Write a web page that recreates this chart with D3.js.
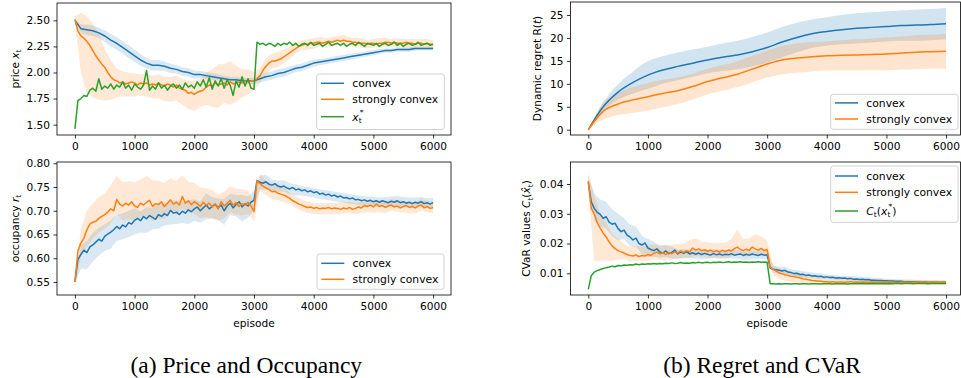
<!DOCTYPE html>
<html>
<head>
<meta charset="utf-8">
<script src="https://cdn.jsdelivr.net/npm/d3@7"></script>
<style>
  html, body { margin: 0; padding: 0; background: #fff; }
  svg { display: block; font-family: "DejaVu Sans", sans-serif; }
</style>
</head>
<body>
<svg id="chart" width="961" height="378"></svg>
<script>
// ---- ticks ----
const xTicks = [0, 1000, 2000, 3000, 4000, 5000, 6000];
const priceTicks = [1.50, 1.75, 2.00, 2.25, 2.50];
const occTicks = [0.55, 0.60, 0.65, 0.70, 0.75, 0.80];
const regretTicks = [0, 5, 10, 15, 20, 25];
const cvarTicks = [0.01, 0.02, 0.03, 0.04];

// ---- price x_t (convex every 100 episodes, others every 50) ----
const priceConvex = [2.50,2.42,2.41,2.40,2.38,2.35,2.31,2.28,2.24,2.20,
  2.16,2.12,2.09,2.07,2.07,2.06,2.04,2.03,2.01,2.00,
  1.98,1.98,1.97,1.96,1.95,1.94,1.93,1.93,1.92,1.92,
  1.92,1.94,1.96,1.97,1.99,2.00,2.02,2.04,2.05,2.07,
  2.09,2.10,2.11,2.12,2.13,2.14,2.15,2.16,2.17,2.18,
  2.19,2.20,2.21,2.21,2.22,2.22,2.22,2.23,2.23,2.23,2.23];
const priceConvexBand = [0.01,0.04,0.05,0.05,0.05,0.055,0.06,0.06,0.06,0.06,
  0.06,0.055,0.05,0.05,0.05,0.045,0.045,0.04,0.04,0.04,
  0.04,0.035,0.035,0.035,0.03,0.03,0.03,0.03,0.03,0.03,
  0.03,0.035,0.04,0.04,0.04,0.04,0.04,0.035,0.035,0.035,
  0.035,0.03,0.03,0.03,0.03,0.03,0.03,0.025,0.025,0.025,
  0.025,0.025,0.02,0.02,0.02,0.02,0.02,0.02,0.02,0.02,0.02];
const priceStrong = [2.51,2.40,2.35,2.33,2.30,2.26,2.21,2.16,2.12,2.08,
  2.05,2.00,1.96,1.93,1.92,1.90,1.91,1.89,1.90,1.91,
  1.90,1.88,1.90,1.89,1.90,1.88,1.89,1.88,1.90,1.88,
  1.87,1.89,1.88,1.86,1.88,1.85,1.84,1.83,1.80,1.81,
  1.79,1.81,1.82,1.83,1.86,1.88,1.87,1.90,1.88,1.89,
  1.90,1.88,1.91,1.89,1.90,1.91,1.90,1.92,1.91,1.92,
  1.92,1.94,1.97,2.02,2.06,2.09,2.11,2.11,2.12,2.13,
  2.15,2.17,2.19,2.21,2.23,2.25,2.26,2.27,2.27,2.28,
  2.28,2.29,2.29,2.28,2.29,2.30,2.29,2.30,2.31,2.30,
  2.31,2.30,2.30,2.29,2.29,2.28,2.28,2.28,2.27,2.28,
  2.28,2.27,2.28,2.28,2.29,2.29,2.28,2.29,2.28,2.28,
  2.28,2.29,2.28,2.28,2.27,2.28,2.28,2.27,2.28,2.27,
  2.27];
const priceStrongUp = [0.03,0.22,0.24,0.26,0.26,0.17,0.16,0.12,0.10,0.10,
  0.09,0.08,0.09,0.08,0.08,0.09,0.08,0.09,0.10,0.12,
  0.13,0.12,0.14,0.16,0.20,0.18,0.20,0.17,0.13,0.12,
  0.08,0.07,0.08,0.07,0.08,0.07,0.06,0.06,0.05,0.05,
  0.05,0.05,0.04,0.05,0.04,0.05,0.04,0.04,0.05,0.04,
  0.04,0.05,0.04,0.04,0.05,0.04,0.04,0.05,0.04,0.04,0.04];
const priceStrongDn = [0.03,0.35,0.50,0.45,0.38,0.32,0.22,0.16,0.14,0.13,
  0.13,0.12,0.13,0.14,0.15,0.14,0.16,0.15,0.15,0.15,
  0.16,0.15,0.17,0.20,0.22,0.19,0.22,0.18,0.14,0.12,
  0.08,0.07,0.08,0.07,0.07,0.06,0.06,0.05,0.05,0.05,
  0.05,0.04,0.04,0.05,0.04,0.04,0.04,0.05,0.04,0.04,
  0.04,0.04,0.05,0.04,0.04,0.04,0.05,0.04,0.04,0.04,0.04];
const priceOptimal = [1.46,1.73,1.75,1.78,1.77,1.83,1.85,1.82,1.94,1.84,
  1.87,1.85,1.89,1.84,1.88,1.86,1.91,1.85,1.88,1.83,
  1.89,1.86,1.84,1.88,2.02,1.83,1.87,1.84,1.90,1.85,
  1.88,1.83,1.87,1.89,1.85,1.88,1.84,1.90,1.86,1.88,
  1.85,1.91,1.87,1.93,1.86,1.95,1.84,1.92,1.87,1.94,
  1.85,1.93,1.88,1.78,1.92,1.86,1.96,1.87,1.94,1.85,
  1.84,2.29,2.27,2.28,2.26,2.28,2.27,2.25,2.28,2.26,
  2.28,2.27,2.29,2.26,2.28,2.25,2.27,2.28,2.26,2.29,
  2.26,2.27,2.28,2.25,2.27,2.29,2.26,2.27,2.28,2.26,
  2.28,2.25,2.27,2.28,2.26,2.29,2.27,2.25,2.28,2.27,
  2.26,2.28,2.25,2.27,2.28,2.26,2.27,2.29,2.26,2.28,
  2.25,2.27,2.28,2.26,2.27,2.29,2.26,2.27,2.28,2.26,
  2.27];

// ---- occupancy r_t (every 50 episodes, bands every 100) ----
const occConvex = [0.550,0.597,0.608,0.617,0.612,0.624,0.628,0.634,0.640,0.636,
  0.646,0.651,0.655,0.660,0.667,0.662,0.670,0.666,0.675,0.672,
  0.680,0.684,0.679,0.688,0.683,0.690,0.686,0.682,0.692,0.688,
  0.694,0.690,0.701,0.695,0.697,0.692,0.699,0.695,0.702,0.698,
  0.704,0.708,0.700,0.706,0.712,0.704,0.709,0.714,0.706,0.712,
  0.700,0.710,0.716,0.706,0.713,0.719,0.708,0.715,0.710,0.718,
  0.722,0.764,0.760,0.758,0.761,0.756,0.754,0.757,0.752,0.750,
  0.752,0.748,0.746,0.749,0.744,0.746,0.742,0.744,0.740,0.742,
  0.738,0.740,0.735,0.737,0.733,0.735,0.731,0.733,0.729,0.731,
  0.727,0.728,0.725,0.727,0.723,0.724,0.721,0.723,0.720,0.722,
  0.719,0.721,0.718,0.721,0.719,0.717,0.720,0.718,0.721,0.717,
  0.719,0.716,0.718,0.715,0.718,0.716,0.719,0.715,0.717,0.714,
  0.717];
const occConvexUp = [0.005,0.02,0.025,0.025,0.025,0.025,0.025,0.025,0.025,0.025,
  0.025,0.02,0.025,0.02,0.025,0.02,0.02,0.025,0.02,0.02,
  0.02,0.02,0.025,0.02,0.02,0.025,0.02,0.02,0.025,0.02,
  0.02,0.015,0.015,0.012,0.012,0.012,0.012,0.012,0.01,0.01,
  0.01,0.01,0.01,0.01,0.01,0.01,0.01,0.01,0.01,0.01,
  0.01,0.01,0.01,0.01,0.01,0.01,0.01,0.01,0.01,0.01,0.01];
const occConvexDn = [0.005,0.03,0.035,0.035,0.035,0.03,0.035,0.03,0.03,0.03,
  0.03,0.025,0.03,0.025,0.03,0.025,0.03,0.025,0.025,0.03,
  0.025,0.025,0.03,0.025,0.025,0.03,0.025,0.025,0.03,0.025,
  0.02,0.015,0.015,0.012,0.012,0.012,0.012,0.012,0.01,0.01,
  0.01,0.01,0.01,0.01,0.01,0.01,0.01,0.01,0.01,0.01,
  0.01,0.01,0.01,0.01,0.01,0.01,0.01,0.01,0.01,0.01,0.01];
const occStrong = [0.550,0.615,0.632,0.642,0.660,0.672,0.676,0.678,0.684,0.688,
  0.692,0.697,0.704,0.700,0.724,0.714,0.710,0.716,0.712,0.719,
  0.710,0.707,0.716,0.712,0.718,0.722,0.709,0.715,0.713,0.719,
  0.709,0.716,0.723,0.714,0.718,0.712,0.730,0.716,0.721,0.713,
  0.719,0.715,0.709,0.718,0.712,0.716,0.708,0.713,0.704,0.719,
  0.710,0.716,0.722,0.712,0.717,0.709,0.715,0.712,0.718,0.710,
  0.698,0.763,0.757,0.752,0.748,0.745,0.740,0.741,0.737,0.735,
  0.733,0.730,0.726,0.721,0.718,0.714,0.712,0.709,0.707,0.708,
  0.705,0.707,0.704,0.706,0.705,0.707,0.704,0.706,0.705,0.703,
  0.706,0.704,0.707,0.703,0.705,0.708,0.706,0.711,0.709,0.712,
  0.708,0.714,0.709,0.711,0.707,0.710,0.712,0.708,0.710,0.706,
  0.709,0.711,0.707,0.709,0.706,0.710,0.712,0.706,0.709,0.705,
  0.707];
const occStrongUp = [0.005,0.03,0.04,0.04,0.045,0.045,0.05,0.05,0.05,0.05,
  0.05,0.05,0.055,0.055,0.05,0.05,0.045,0.045,0.045,0.04,
  0.04,0.04,0.035,0.035,0.03,0.03,0.03,0.03,0.03,0.025,
  0.02,0.02,0.015,0.015,0.015,0.015,0.012,0.012,0.012,0.012,
  0.012,0.012,0.012,0.012,0.012,0.012,0.012,0.012,0.012,0.012,
  0.012,0.012,0.012,0.012,0.012,0.012,0.012,0.012,0.012,0.012,0.012];
const occStrongDn = [0.005,0.03,0.035,0.035,0.03,0.03,0.03,0.03,0.03,0.03,
  0.03,0.03,0.03,0.03,0.03,0.025,0.025,0.025,0.025,0.025,
  0.025,0.025,0.025,0.025,0.025,0.025,0.025,0.025,0.025,0.025,
  0.02,0.015,0.015,0.015,0.015,0.015,0.012,0.012,0.012,0.012,
  0.012,0.012,0.012,0.012,0.012,0.012,0.012,0.012,0.012,0.012,
  0.012,0.012,0.012,0.012,0.012,0.012,0.012,0.012,0.012,0.012,0.012];

// ---- dynamic regret R(t) (every 250 episodes) ----
const regretConvex = [0,5.0,8.2,10.3,11.9,13.0,13.8,14.5,15.2,15.8,16.3,17.0,17.9,19.1,20.1,20.9,21.4,21.8,22.1,22.3,22.5,22.7,22.8,22.9,23.1];
const regretConvexStd = [0,1.0,1.7,2.4,3.0,3.0,3.0,3.0,2.9,3.0,3.1,3.2,3.3,3.3,3.2,3.1,3.1,3.2,3.3,3.3,3.3,3.3,3.4,3.4,3.4];
const regretStrong = [0,4.0,5.6,6.5,7.2,7.9,8.5,9.4,10.5,11.3,12.1,13.2,14.3,15.2,15.6,15.9,16.1,16.2,16.3,16.4,16.5,16.7,16.9,17.0,17.1];
const regretStrongStd = [0,1.8,2.4,2.8,3.0,3.0,2.9,2.8,2.8,2.8,2.8,2.9,2.9,3.1,3.2,3.2,3.2,3.3,3.4,3.5,3.6,3.6,3.7,3.7,3.8];

// ---- CVaR values (every 50 episodes, bands every 100) ----
const cvarConvex = [0.0405,0.0340,0.0318,0.0305,0.0298,0.0285,0.0290,0.0272,0.0265,0.0268,
  0.0250,0.0240,0.0245,0.0228,0.0222,0.0212,0.0218,0.0200,0.0195,0.0202,
  0.0185,0.0180,0.0176,0.0182,0.0172,0.0168,0.0175,0.0166,0.0170,0.0178,
  0.0165,0.0171,0.0167,0.0173,0.0165,0.0169,0.0164,0.0168,0.0163,0.0167,
  0.0164,0.0161,0.0166,0.0162,0.0165,0.0161,0.0164,0.0162,0.0166,0.0161,
  0.0163,0.0165,0.0160,0.0164,0.0161,0.0165,0.0162,0.0160,0.0164,0.0161,
  0.0162,0.0118,0.0114,0.0112,0.0110,0.0108,0.0110,0.0104,0.0103,0.0099,
  0.0100,0.0096,0.0097,0.0093,0.0094,0.0091,0.0092,0.0089,0.0090,0.0087,
  0.0088,0.0086,0.0087,0.0084,0.0085,0.0083,0.0084,0.0082,0.0083,0.0080,
  0.0081,0.0079,0.0080,0.0078,0.0079,0.0077,0.0077,0.0076,0.0076,0.0075,
  0.0075,0.0074,0.0074,0.0073,0.0073,0.0073,0.0072,0.0072,0.0072,0.0071,
  0.0071,0.0071,0.0070,0.0071,0.0070,0.0070,0.0070,0.0070,0.0069,0.0070,
  0.0069];
const cvarConvexUp = [0.002,0.005,0.005,0.005,0.005,0.005,0.004,0.004,0.004,0.003,
  0.003,0.003,0.002,0.002,0.002,0.0015,0.0015,0.0015,0.0015,0.0015,
  0.0015,0.0015,0.0015,0.0015,0.0015,0.0015,0.0015,0.0015,0.0015,0.0015,
  0.0015,0.0012,0.0012,0.0012,0.001,0.001,0.001,0.001,0.001,0.001,
  0.0008,0.0008,0.0008,0.0008,0.0008,0.0008,0.0008,0.0008,0.0008,0.0008,
  0.0007,0.0007,0.0007,0.0007,0.0007,0.0007,0.0007,0.0007,0.0007,0.0007,0.0007];
const cvarConvexDn = [0.002,0.004,0.004,0.004,0.004,0.004,0.003,0.003,0.003,0.003,
  0.003,0.002,0.002,0.002,0.002,0.0015,0.0015,0.0015,0.0015,0.0015,
  0.0015,0.0015,0.0015,0.0015,0.0015,0.0015,0.0015,0.0015,0.0015,0.0015,
  0.0015,0.0012,0.0012,0.0012,0.001,0.001,0.001,0.001,0.001,0.001,
  0.0008,0.0008,0.0008,0.0008,0.0008,0.0008,0.0008,0.0008,0.0008,0.0008,
  0.0007,0.0007,0.0007,0.0007,0.0007,0.0007,0.0007,0.0007,0.0007,0.0007,0.0007];
const cvarStrong = [0.0410,0.0318,0.0300,0.0270,0.0252,0.0235,0.0222,0.0205,0.0192,0.0183,
  0.0176,0.0172,0.0168,0.0163,0.0160,0.0158,0.0162,0.0156,0.0160,0.0158,
  0.0163,0.0160,0.0167,0.0171,0.0165,0.0169,0.0163,0.0170,0.0166,0.0172,
  0.0168,0.0175,0.0170,0.0176,0.0172,0.0185,0.0178,0.0182,0.0176,0.0179,
  0.0174,0.0178,0.0172,0.0176,0.0171,0.0177,0.0173,0.0178,0.0175,0.0183,
  0.0188,0.0180,0.0176,0.0181,0.0177,0.0188,0.0182,0.0178,0.0184,0.0176,
  0.0180,0.0122,0.0113,0.0108,0.0101,0.0098,0.0095,0.0093,0.0090,0.0089,
  0.0087,0.0085,0.0082,0.0080,0.0078,0.0076,0.0075,0.0074,0.0073,0.0072,
  0.0072,0.0071,0.0072,0.0070,0.0071,0.0071,0.0070,0.0071,0.0072,0.0070,
  0.0071,0.0070,0.0071,0.0070,0.0070,0.0071,0.0070,0.0070,0.0071,0.0070,
  0.0070,0.0071,0.0070,0.0070,0.0069,0.0070,0.0071,0.0070,0.0070,0.0069,
  0.0070,0.0070,0.0071,0.0070,0.0069,0.0070,0.0070,0.0069,0.0070,0.0070,
  0.0070];
const cvarStrongUp = [0.003,0.006,0.005,0.005,0.004,0.004,0.003,0.003,0.003,0.003,
  0.003,0.003,0.003,0.003,0.003,0.003,0.003,0.004,0.004,0.003,
  0.003,0.003,0.003,0.003,0.004,0.006,0.004,0.004,0.005,0.004,
  0.003,0.0015,0.0015,0.0015,0.0012,0.0012,0.0012,0.001,0.001,0.001,
  0.001,0.001,0.0009,0.0009,0.0009,0.0008,0.0008,0.0008,0.0008,0.0008,
  0.0008,0.0008,0.0007,0.0007,0.0007,0.0007,0.0007,0.0007,0.0007,0.0007,0.0007];
const cvarStrongDn = [0.003,0.016,0.011,0.008,0.005,0.003,0.002,0.002,0.002,0.002,
  0.002,0.002,0.002,0.002,0.002,0.002,0.002,0.002,0.002,0.002,
  0.002,0.002,0.002,0.002,0.002,0.002,0.002,0.002,0.002,0.002,
  0.002,0.002,0.002,0.002,0.0018,0.0018,0.0016,0.0014,0.0012,0.001,
  0.001,0.001,0.0009,0.0009,0.0009,0.0008,0.0008,0.0008,0.0008,0.0008,
  0.0008,0.0008,0.0007,0.0007,0.0007,0.0007,0.0007,0.0007,0.0007,0.0007,0.0007];
const cvarOptimal = [0.0046,0.0092,0.0104,0.0109,0.0113,0.0116,0.0119,0.0121,0.0124,0.0122,
  0.0126,0.0125,0.0128,0.0127,0.0129,0.0128,0.0131,0.0129,0.0131,0.0130,
  0.0132,0.0131,0.0133,0.0131,0.0133,0.0132,0.0134,0.0133,0.0135,0.0133,
  0.0134,0.0136,0.0134,0.0135,0.0134,0.0136,0.0135,0.0137,0.0135,0.0136,
  0.0137,0.0135,0.0137,0.0136,0.0138,0.0136,0.0137,0.0139,0.0136,0.0138,
  0.0137,0.0139,0.0137,0.0138,0.0136,0.0138,0.0137,0.0139,0.0137,0.0138,
  0.0137,0.0065,0.0065,0.0064,0.0065,0.0064,0.0065,0.0065,0.0064,0.0065,
  0.0065,0.0064,0.0065,0.0065,0.0064,0.0065,0.0065,0.0065,0.0064,0.0065,
  0.0065,0.0065,0.0064,0.0065,0.0065,0.0065,0.0065,0.0064,0.0065,0.0065,
  0.0065,0.0065,0.0066,0.0065,0.0065,0.0065,0.0066,0.0065,0.0065,0.0066,
  0.0065,0.0066,0.0065,0.0066,0.0066,0.0065,0.0066,0.0066,0.0066,0.0065,
  0.0066,0.0066,0.0066,0.0066,0.0065,0.0066,0.0066,0.0066,0.0066,0.0066,
  0.0066];

const COLORS = { convex: "#1f77b4", strong: "#ff7f0e", optimal: "#2ca02c" };
const TICK_FS = 10.6;
const LEGEND_FS = 10.8;

// label pieces: it = italic, sub / sup = script, stack = sit on top of previous script
const convexLabel = [{ t: "convex" }];
const strongLabel = [{ t: "strongly convex" }];
const xStarLabel = [{ t: "x", it: true }, { t: "t", sub: true }, { t: "*", sup: true, stack: true }];
const cStarLabel = [{ t: "C", it: true }, { t: "t", sub: true }, { t: "(" }, { t: "x", it: true },
  { t: "t", sub: true }, { t: "*", sup: true, stack: true }, { t: ")" }];

const panels = [
  {
    id: "price",
    box: { left: 57, right: 451, top: 3, bottom: 135 }, frameRight: 451,
    yDomain: [1.401, 2.666], yTicks: priceTicks, yFormat: d3.format(".2f"),
    yLabel: [{ t: "price " }, { t: "x", it: true }, { t: "t", sub: true }], yLabelX: 18.6,
    series: [
      { color: COLORS.convex, values: priceConvex, step: 100, band: { up: priceConvexBand, dn: priceConvexBand, step: 100 } },
      { color: COLORS.strong, values: priceStrong, step: 50, band: { up: priceStrongUp, dn: priceStrongDn, step: 100 } },
      { color: COLORS.optimal, values: priceOptimal, step: 50 },
    ],
    legend: { x: 316.7, y: 74, w: 127.6, h: 55.5,
      rows: [[COLORS.convex, convexLabel, 9.3], [COLORS.strong, strongLabel, 25.3], [COLORS.optimal, xStarLabel, 42.7]] },
    xLabel: false,
  },
  {
    id: "occupancy",
    box: { left: 57, right: 451, top: 162, bottom: 295 }, frameRight: 451,
    yDomain: [0.5226, 0.8027], yTicks: occTicks, yFormat: d3.format(".2f"),
    yLabel: [{ t: "occupancy " }, { t: "r", it: true }, { t: "t", sub: true }], yLabelX: 18.6,
    series: [
      { color: COLORS.convex, values: occConvex, step: 50, band: { up: occConvexUp, dn: occConvexDn, step: 100 } },
      { color: COLORS.strong, values: occStrong, step: 50, band: { up: occStrongUp, dn: occStrongDn, step: 100 } },
    ],
    legend: { x: 317, y: 254, w: 127, h: 35.3,
      rows: [[COLORS.convex, convexLabel, 9.3], [COLORS.strong, strongLabel, 25.3]] },
    xLabel: true,
  },
  {
    id: "regret",
    box: { left: 570.4, right: 963.9, top: 2, bottom: 135 }, frameRight: 960.5,
    yDomain: [-1.155, 27.83], yTicks: regretTicks, yFormat: d3.format("d"),
    yLabel: [{ t: "Dynamic regret R(" }, { t: "t", it: true }, { t: ")" }], yLabelX: 541,
    series: [
      { color: COLORS.convex, values: regretConvex, step: 250, smooth: true, band: { up: regretConvexStd, dn: regretConvexStd, step: 250 } },
      { color: COLORS.strong, values: regretStrong, step: 250, smooth: true, band: { up: regretStrongStd, dn: regretStrongStd, step: 250 } },
    ],
    legend: { x: 830.7, y: 94.3, w: 127.3, h: 35,
      rows: [[COLORS.convex, convexLabel, 8.6], [COLORS.strong, strongLabel, 24.7]] },
    xLabel: false,
  },
  {
    id: "cvar",
    box: { left: 570.4, right: 963.9, top: 162, bottom: 295 }, frameRight: 960.5,
    yDomain: [0.00271, 0.04739], yTicks: cvarTicks, yFormat: d3.format(".2f"),
    yLabel: [{ t: "CVaR values " }, { t: "C", it: true }, { t: "t", sub: true }, { t: "(" },
      { t: "x\u0302", it: true }, { t: "t", sub: true }, { t: ")" }], yLabelX: 530,
    series: [
      { color: COLORS.convex, values: cvarConvex, step: 50, band: { up: cvarConvexUp, dn: cvarConvexDn, step: 100 } },
      { color: COLORS.strong, values: cvarStrong, step: 50, band: { up: cvarStrongUp, dn: cvarStrongDn, step: 100 } },
      { color: COLORS.optimal, values: cvarOptimal, step: 50 },
    ],
    legend: { x: 830.7, y: 166, w: 127.3, h: 56.3,
      rows: [[COLORS.convex, convexLabel, 10], [COLORS.strong, strongLabel, 26.3], [COLORS.optimal, cStarLabel, 45]] },
    xLabel: true,
  },
];

const captions = [
  { text: "(a) Price and Occupancy", x: 246.3 },
  { text: "(b) Regret and CVaR", x: 762 },
];

// ---- helpers ----
const measureCtx = document.createElement("canvas").getContext("2d");
function textWidth(str, size, italic) {
  measureCtx.font = `${italic ? "italic " : ""}${size}px "DejaVu Sans"`;
  return measureCtx.measureText(str).width;
}

function richText(parent, segs, size, anchor) {
  let cursor = 0, lastStart = 0;
  const placed = segs.map(s => {
    const fs = (s.sub || s.sup) ? size * 0.7 : size;
    // a stacked superscript is nudged right a little so it clears the subscript
    const start = s.stack ? lastStart + 1 : cursor;
    const w = textWidth(s.t, fs, s.it);
    const dy = s.sub ? size * 0.24 : s.sup ? -size * 0.52 : 0;
    lastStart = start;
    cursor = s.stack ? Math.max(cursor, start + w) : start + w;
    return { ...s, fs, x: start, dy };
  });
  const shift = anchor === "middle" ? -cursor / 2 : 0;
  const text = parent.append("text").attr("fill", "#000");
  placed.forEach(p => {
    text.append("tspan")
      .attr("x", p.x + shift)
      .attr("y", p.dy)
      .attr("font-size", p.fs)
      .attr("font-style", p.it ? "italic" : null)
      .text(p.t);
  });
  return text;
}

function linePoints(s) {
  return s.values.map((v, i) => ({ ep: i * s.step, v }));
}

function bandPoints(s) {
  const ratio = s.band.step / s.step;
  return s.band.up.map((u, i) => {
    const m = s.values[i * ratio];
    return { ep: i * s.band.step, lo: m - s.band.dn[i], hi: m + u };
  });
}

// ---- draw ----
const svg = d3.select("#chart");
const defs = svg.append("defs");

panels.forEach(p => {
  const { box } = p;
  const x = d3.scaleLinear().domain([-300, 6300]).range([box.left, box.right]);
  const y = d3.scaleLinear().domain(p.yDomain).range([box.bottom, box.top]);
  const g = svg.append("g").attr("id", p.id);

  const clipId = `clip-${p.id}`;
  defs.append("clipPath").attr("id", clipId)
    .append("rect")
      .attr("x", box.left).attr("y", box.top)
      .attr("width", p.frameRight - box.left).attr("height", box.bottom - box.top);

  const $view = g.append("g").attr("clip-path", `url(#${clipId})`);

  // bands
  p.series.filter(s => s.band).forEach(s => {
    const area = d3.area()
      .curve(s.smooth ? d3.curveMonotoneX : d3.curveLinear)
      .x(d => x(d.ep))
      .y0(d => y(d.lo))
      .y1(d => y(d.hi));
    $view.append("path")
      .datum(bandPoints(s))
      .attr("fill", s.color)
      .attr("fill-opacity", s.smooth ? 0.2 : 0.17)
      .attr("d", area);
  });

  // lines
  p.series.forEach(s => {
    const line = d3.line()
      .curve(s.smooth ? d3.curveMonotoneX : d3.curveLinear)
      .x(d => x(d.ep))
      .y(d => y(d.v));
    $view.append("path")
      .datum(linePoints(s))
      .attr("fill", "none")
      .attr("stroke", s.color)
      .attr("stroke-width", 1.5)
      .attr("stroke-linejoin", "round")
      .attr("d", line);
  });

  // axes
  const $xAxis = g.append("g")
    .attr("transform", `translate(0,${box.bottom})`)
    .call(d3.axisBottom(x).tickValues(xTicks).tickFormat(d3.format("d")).tickSize(3.5).tickPadding(3.5));
  const $yAxis = g.append("g")
    .attr("transform", `translate(${box.left},0)`)
    .call(d3.axisLeft(y).tickValues(p.yTicks).tickFormat(p.yFormat).tickSize(3.5).tickPadding(3.5));
  [$xAxis, $yAxis].forEach($a => {
    $a.attr("font-family", "DejaVu Sans, sans-serif").attr("font-size", TICK_FS);
    $a.select(".domain").remove();
    $a.selectAll(".tick line").attr("stroke", "#000").attr("stroke-width", 0.8);
    $a.selectAll(".tick text").attr("fill", "#000");
  });

  // frame
  g.append("rect")
    .attr("x", box.left).attr("y", box.top)
    .attr("width", p.frameRight - box.left).attr("height", box.bottom - box.top)
    .attr("fill", "none").attr("stroke", "#000").attr("stroke-width", 0.8);

  // y label
  const $yl = g.append("g")
    .attr("transform", `translate(${p.yLabelX},${(box.top + box.bottom) / 2}) rotate(-90)`);
  richText($yl, p.yLabel, TICK_FS, "middle");

  // x label
  if (p.xLabel) {
    g.append("text")
      .attr("x", (box.left + p.frameRight) / 2 + (p.frameRight < box.right ? 1.7 : 0))
      .attr("y", 326.5)
      .attr("text-anchor", "middle")
      .attr("font-size", TICK_FS)
      .attr("fill", "#000")
      .text("episode");
  }

  // legend
  const lg = p.legend;
  const $legend = g.append("g").attr("transform", `translate(${lg.x},${lg.y})`);
  $legend.append("rect")
    .attr("width", lg.w).attr("height", lg.h)
    .attr("rx", 2.5)
    .attr("fill", "#fff").attr("fill-opacity", 0.8)
    .attr("stroke", "#cccccc").attr("stroke-width", 0.9);
  lg.rows.forEach(([color, label, ry]) => {
    $legend.append("line")
      .attr("x1", 4.3).attr("x2", 27.3)
      .attr("y1", ry).attr("y2", ry)
      .attr("stroke", color).attr("stroke-width", 1.5);
    const $row = $legend.append("g").attr("transform", `translate(35.6,${ry + 3.8})`);
    richText($row, label, LEGEND_FS, "start");
  });
});

// captions
svg.selectAll("text.caption")
  .data(captions)
  .join("text")
    .attr("class", "caption")
    .attr("x", d => d.x)
    .attr("y", 373)
    .attr("text-anchor", "middle")
    .attr("font-family", "'Liberation Serif', 'Times New Roman', serif")
    .attr("font-size", 23.5)
    .attr("fill", "#000")
    .text(d => d.text);
</script>
</body>
</html>
